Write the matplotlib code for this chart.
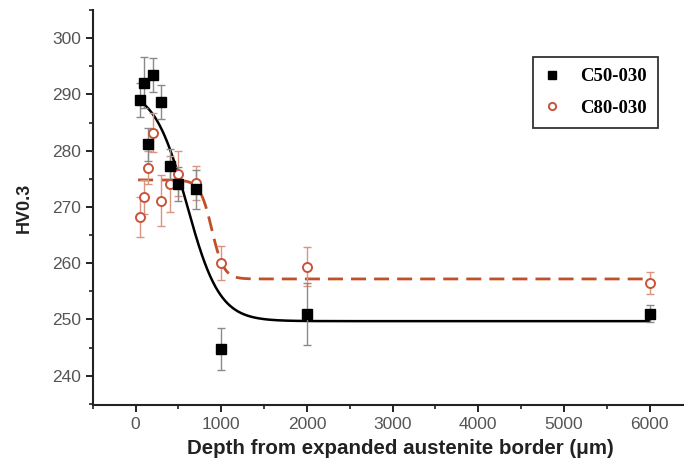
import numpy as np
import matplotlib
matplotlib.use("Agg")
import matplotlib.pyplot as plt
from matplotlib.ticker import MultipleLocator

plt.rcParams["font.family"] = ["Liberation Sans", "DejaVu Sans"]

# ---- data ----
c50_depth = [50, 100, 200, 300, 150, 400, 500, 700, 1000, 2000, 6000]
c50_hv = [289.0, 292.1, 293.5, 288.7, 281.1, 277.3, 274.1, 273.1, 244.7, 250.9, 251.0]
c50_err = [3.0, 4.5, 3.0, 3.0, 3.0, 3.0, 3.0, 3.5, 3.7, 5.5, 1.5]

c80_depth = [50, 100, 150, 200, 300, 400, 500, 700, 1000, 2000, 6000]
c80_hv = [268.2, 271.7, 277.0, 283.2, 271.1, 274.1, 275.9, 274.2, 260.0, 259.4, 256.5]
c80_err = [3.6, 3.0, 3.0, 3.5, 4.5, 5.0, 4.0, 3.0, 3.0, 3.5, 2.0]

# Boltzmann fit parameters (A1, A2, x0, dx) as drawn
c50_fit = (291.0, 249.7, 600.0, 190.0)
c80_fit = (274.8, 257.2, 890.0, 70.0)

x_ticks = [0, 1000, 2000, 3000, 4000, 5000, 6000]
y_ticks = [240, 250, 260, 270, 280, 290, 300]


def boltzmann(x, p):
    a1, a2, x0, dx = p
    return a2 + (a1 - a2) / (1.0 + np.exp((x - x0) / dx))


fig = plt.figure(figsize=(6.84, 4.67), dpi=100)
ax = fig.add_axes([0.1355, 0.1328, 1.0 - 0.1355, 0.9786 - 0.1328])

xf = np.linspace(30, 6000, 2000)
ax.plot(xf, boltzmann(xf, c50_fit), color="black", lw=1.8, zorder=2)
ax.plot(xf, boltzmann(xf, c80_fit), color="#c0502a", lw=2.0,
        dashes=(5.4, 2.9), zorder=2)

ax.errorbar(c80_depth, c80_hv, yerr=c80_err, fmt="none", ecolor="#d99580",
            elinewidth=1.0, capsize=3, capthick=1.0, zorder=3)
ax.errorbar(c50_depth, c50_hv, yerr=c50_err, fmt="none", ecolor="#8a8a8a",
            elinewidth=1.0, capsize=3, capthick=1.0, zorder=3)

ax.plot(c50_depth, c50_hv, ls="none", marker="s", ms=6.5, mfc="black",
        mec="black", label="C50-030", zorder=5)
ax.plot(c80_depth, c80_hv, ls="none", marker="o", ms=6.5, mfc="white",
        mec="#c8553a", mew=1.4, label="C80-030", zorder=4)

ax.set_xlim(-500, 6400)
ax.set_ylim(234.8, 305)
ax.set_xticks(x_ticks)
ax.set_yticks(y_ticks)
ax.xaxis.set_minor_locator(MultipleLocator(500))
ax.yaxis.set_minor_locator(MultipleLocator(5))

for s in ["top", "right"]:
    ax.spines[s].set_visible(False)
for s in ["left", "bottom"]:
    ax.spines[s].set_linewidth(1.5)
    ax.spines[s].set_color("#222222")

ax.tick_params(which="major", direction="out", length=5, width=1.4,
               colors="#222222", labelcolor="#555555", labelsize=12.5)
ax.tick_params(which="minor", direction="out", length=3, width=1.2,
               colors="#222222")

ax.set_xlabel("Depth from expanded austenite border (\u03bcm)", fontsize=14.8,
              fontweight="bold", color="#222222")
ax.xaxis.set_label_coords(0.52, -0.085)
ax.set_ylabel("HV0.3", fontsize=13, fontweight="bold", color="#222222",
              labelpad=14)

leg = ax.legend(loc="upper right", bbox_to_anchor=(0.956, 0.881),
                borderaxespad=0.0,
                frameon=True, fancybox=False, framealpha=1, edgecolor="#333333",
                prop={"family": "Liberation Serif", "weight": "bold", "size": 13.5},
                handletextpad=1.1, borderpad=0.6, labelspacing=0.75,
                handlelength=0.8, markerscale=0.8)
leg.get_frame().set_linewidth(1.3)

fig.savefig("out.png", dpi=100)
